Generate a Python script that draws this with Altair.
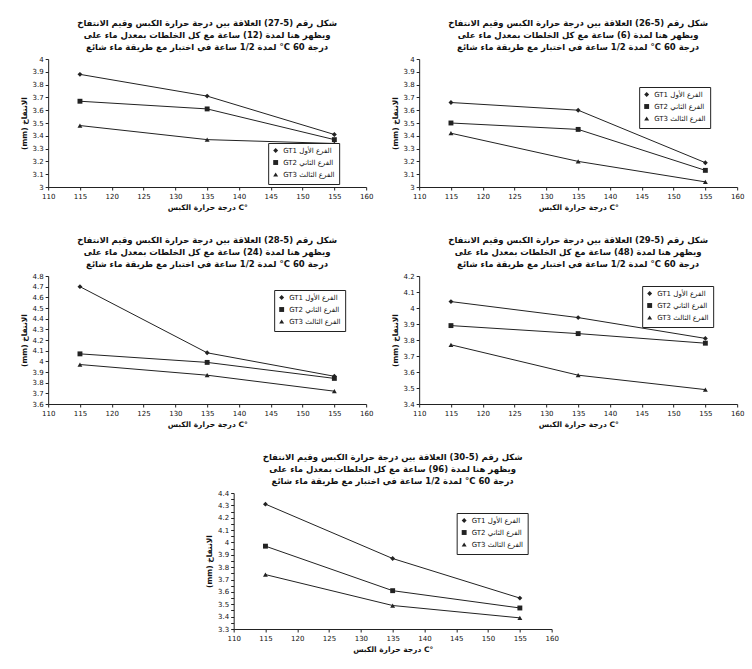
import altair as alt
import pandas as pd

# ---------------- data ----------------
temps = [115, 135, 155]
x_ticks = [110, 115, 120, 125, 130, 135, 140, 145, 150, 155, 160]
series_names = ["GT1 الفرع الأول", "GT2 الفرع الثاني", "GT3 الفرع الثالث"]

# chart 1 (top left)
c1_s1 = [3.88, 3.71, 3.41]
c1_s2 = [3.67, 3.61, 3.37]
c1_s3 = [3.48, 3.37, 3.34]
c1_ticks = [3, 3.1, 3.2, 3.3, 3.4, 3.5, 3.6, 3.7, 3.8, 3.9, 4]

# chart 2 (top right)
c2_s1 = [3.66, 3.60, 3.19]
c2_s2 = [3.50, 3.45, 3.13]
c2_s3 = [3.42, 3.20, 3.04]
c2_ticks = [3, 3.1, 3.2, 3.3, 3.4, 3.5, 3.6, 3.7, 3.8, 3.9, 4]

# chart 3 (middle left)
c3_s1 = [4.70, 4.08, 3.86]
c3_s2 = [4.07, 3.99, 3.84]
c3_s3 = [3.97, 3.87, 3.72]
c3_ticks = [3.6, 3.7, 3.8, 3.9, 4, 4.1, 4.2, 4.3, 4.4, 4.5, 4.6, 4.7, 4.8]

# chart 4 (middle right)
c4_s1 = [4.04, 3.94, 3.81]
c4_s2 = [3.89, 3.84, 3.78]
c4_s3 = [3.77, 3.58, 3.49]
c4_ticks = [3.4, 3.5, 3.6, 3.7, 3.8, 3.9, 4, 4.1, 4.2]

# chart 5 (bottom)
c5_s1 = [4.31, 3.87, 3.55]
c5_s2 = [3.97, 3.61, 3.47]
c5_s3 = [3.74, 3.49, 3.39]
c5_ticks = [3.3, 3.35, 3.4, 3.45, 3.5, 3.55, 3.6, 3.65, 3.7, 3.75, 3.8, 3.85,
            3.9, 3.95, 4, 4.05, 4.1, 4.15, 4.2, 4.25, 4.3, 4.35, 4.4]

hours = ["12", "6", "24", "48", "96"]
fig_nums = ["5-27", "5-26", "5-28", "5-29", "5-30"]

RLE, PDF = "\u202B", "\u202C"
x_title = "درجة حرارة الكبس C°"
y_title = RLE + "الانتفاخ (mm)" + PDF

FONT = "DejaVu Sans"


def title_lines(fig, hrs):
    lines = [
        f"شكل رقم ({fig}) العلاقة بين درجة حرارة الكبس وقيم الانتفاخ",
        f"ويظهر هنا لمدة ({hrs}) ساعة مع كل الخلطات بمعدل ماء على",
        "درجة 60 C° لمدة 1/2 ساعة في اختبار مع طريقة ماء شائع",
    ]
    return [RLE + s + PDF for s in lines]


def panel(title, vals, yticks, lx, ly, w=318, h=128):
    rows = []
    for name, v in zip(series_names, vals):
        for t, y in zip(temps, v):
            rows.append({"t": t, "v": y, "s": name})
    df = pd.DataFrame(rows)
    base = alt.Chart(df).encode(
        x=alt.X("t:Q",
                scale=alt.Scale(domain=[x_ticks[0], x_ticks[-1]], nice=False, zero=False),
                axis=alt.Axis(values=x_ticks, title=x_title, grid=False, format="d",
                              labelFlush=False)),
        y=alt.Y("v:Q",
                scale=alt.Scale(domain=[yticks[0], yticks[-1]], nice=False, zero=False),
                axis=alt.Axis(values=yticks, title=y_title, grid=False, format="~g")),
    )
    lines = base.mark_line(color="#222", strokeWidth=1).encode(detail="s:N")
    pts = base.mark_point(filled=True, size=24, opacity=1, color="#222").encode(
        shape=alt.Shape("s:N",
                        scale=alt.Scale(domain=series_names,
                                        range=["diamond", "square", "triangle-up"]),
                        legend=alt.Legend(orient="none", legendX=lx, legendY=ly,
                                          title=None, strokeColor="#222",
                                          fillColor="white", padding=4,
                                          labelFontSize=7, labelFont=FONT,
                                          symbolSize=24, rowPadding=1,
                                          labelColor="#111"))
    )
    return alt.layer(lines, pts).properties(
        width=w, height=h,
        title=alt.TitleParams(text=title, fontSize=8.5, font=FONT, fontWeight="bold",
                              anchor="middle", lineHeight=12, offset=4, color="#111"),
    )


p1 = panel(title_lines(fig_nums[0], hours[0]), [c1_s1, c1_s2, c1_s3], c1_ticks, 220, 84)
p2 = panel(title_lines(fig_nums[1], hours[1]), [c2_s1, c2_s2, c2_s3], c2_ticks, 220, 28)
p3 = panel(title_lines(fig_nums[2], hours[2]), [c3_s1, c3_s2, c3_s3], c3_ticks, 226, 14)
p4 = panel(title_lines(fig_nums[3], hours[3]), [c4_s1, c4_s2, c4_s3], c4_ticks, 223, 10)
p5 = panel(title_lines(fig_nums[4], hours[4]), [c5_s1, c5_s2, c5_s3], c5_ticks, 223, 20,
           h=136)

row1 = alt.hconcat(p1, p2, spacing=17).resolve_scale(shape="independent").resolve_legend(shape="independent")
row2 = alt.hconcat(p3, p4, spacing=17).resolve_scale(shape="independent").resolve_legend(shape="independent")

chart = alt.vconcat(row1, row2, p5, spacing=24, center=True).resolve_scale(
    shape="independent").resolve_legend(shape="independent").configure_view(
    stroke=None).configure_axis(
    labelFontSize=7, titleFontSize=7.5, labelFont=FONT, titleFont=FONT,
    domainColor="#222", tickColor="#222", labelColor="#111", titleColor="#111",
    tickSize=3, titleFontWeight="bold", labelPadding=2, titlePadding=4
).properties(background="white",
             padding={"left": 20, "top": 18, "right": 5, "bottom": 5})

chart.save("out.html", embed_options={"renderer": "svg", "actions": False})
